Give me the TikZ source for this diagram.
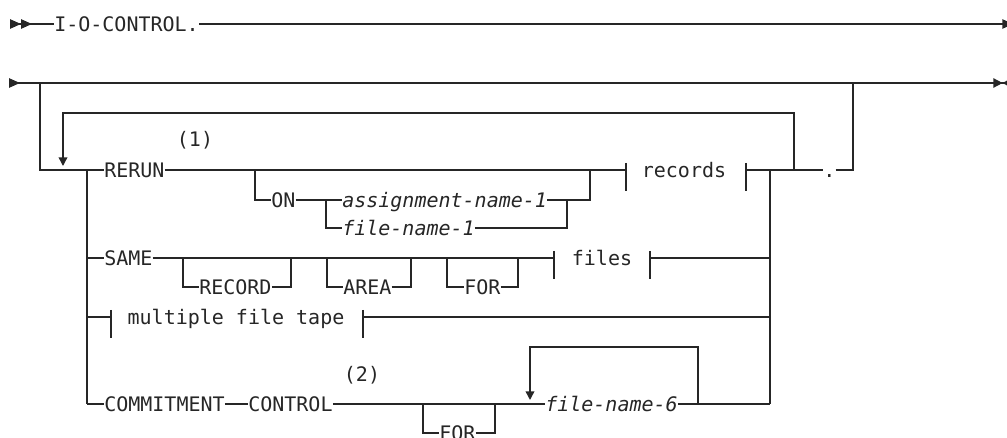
\documentclass[tikz,border=0pt]{standalone}
\usepackage{fontspec}
\usetikzlibrary{arrows.meta}
\newfontfamily\railfont{DejaVu Sans Mono}
\definecolor{railink}{HTML}{262626}
\tikzset{
  rail/.style={draw=railink,line width=1.1pt},
  kw/.style={inner sep=0pt,anchor=west,text=railink,text height=10.9pt,text depth=0pt,font={\railfont\fontsize{15pt}{18pt}\selectfont}},
  var/.style={kw,font={\railfont\itshape\fontsize{15pt}{18pt}\selectfont}},
  frag/.style={kw,anchor=center},
  note/.style={kw,anchor=center},
  firstrow/.style={{Triangle[reversed,length=8.25pt,width=7pt]Triangle[reversed,length=8.25pt,width=7pt]}-},
  nextrow/.style={-{Triangle[length=8pt,width=7pt]}},
  lastrow/.style={{Triangle[reversed,length=8.25pt,width=7pt]}-{Triangle[length=7pt,width=7pt]Triangle[reversed,length=5.5pt,width=6pt]}},
  loophead/.style={-{Triangle[length=6.5pt,width=6.5pt]}}
}

\begin{document}
\begin{tikzpicture}[x=0.75pt,y=-0.75pt]
  \useasboundingbox (0,0) rectangle (1007,438);
  % first line
  \coordinate (in1) at (10,24);
  \coordinate (out1) at (1013,24);
  \node[kw] (ioc) at (54,24) {I-O-CONTROL.};
  \draw[rail,firstrow] (in1) -- (ioc.west);
  \draw[rail,nextrow] (ioc.east) -- (out1);

  % second line
  \coordinate (in2) at (9,83);
  \coordinate (out2) at (1010,83);
  \coordinate (opt) at (40,83);
  \coordinate (back) at (853,83);
  \coordinate (stubA) at (859,83);
  \coordinate (stubB) at (883,83);
  \draw[rail,lastrow] (in2) -- (out2);
  \draw[rail,line width=1.8pt] (stubA) -- (stubB);

  % choice stack
  \coordinate (stkTop) at (87,170);
  \coordinate (stkBot) at (87,404);
  \coordinate (endTop) at (770,170);
  \coordinate (endBot) at (770,404);
  \draw[rail] (stkTop) -- (stkBot);
  \draw[rail] (endTop) -- (endBot);

  % RERUN
  \node[kw] (rerun) at (104,170) {RERUN};
  \node[note] (note1) at (195,139) {(1)};
  \coordinate (onA) at (255,170);
  \coordinate (onB) at (590,170);
  \node[kw] (on) at (271,200) {ON};
  \coordinate (nameA) at (326,200);
  \coordinate (nameB) at (567,200);
  \node[var] (asgn) at (342,200) {assignment-name-1};
  \node[var] (fname1) at (342,228) {file-name-1};
  \coordinate (recA) at (626,170);
  \coordinate (recB) at (746,170);
  \node[frag] (records) at (684,170) {records};
  \coordinate (loopR) at (794,170);
  \coordinate (loopTop) at (63,113);
  \coordinate (loopTip) at (63,166);
  \node[kw] (period) at (823,170) {.};
  \draw[rail] (opt) |- (stkTop) -- (rerun.west);
  \draw[rail] (rerun.east) -- (recA);
  \draw[rail] (onA) |- (on.west);
  \draw[rail] (on.east) -- (asgn.west);
  \draw[rail] (nameA) |- (fname1.west);
  \draw[rail] (fname1.east) -| (nameB);
  \draw[rail] (asgn.east) -| (onB);
  \draw[rail] (recA) ++(0,-7) -- ++(0,28);
  \draw[rail] (recB) ++(0,-7) -- ++(0,28);
  \draw[rail] (recB) -- (period.west);
  \draw[rail] (period.east) -| (back);
  \draw[rail,loophead] (loopR) |- (loopTop) -- (loopTip);

  % SAME
  \node[kw] (same) at (104,258) {SAME};
  \coordinate (recdA) at (183,258);
  \coordinate (recdB) at (291,258);
  \node[kw] (record) at (199,287) {RECORD};
  \coordinate (areaA) at (327,258);
  \coordinate (areaB) at (411,258);
  \node[kw] (area) at (343,287) {AREA};
  \coordinate (forA) at (447,258);
  \coordinate (forB) at (518,258);
  \node[kw] (for1) at (464,287) {FOR};
  \coordinate (filesA) at (554,258);
  \coordinate (filesB) at (650,258);
  \node[frag] (files) at (602,258) {files};
  \draw[rail] (stkTop |- same.west) -- (same.west);
  \draw[rail] (same.east) -- (filesA);
  \draw[rail] (recdA) |- (record.west);
  \draw[rail] (record.east) -| (recdB);
  \draw[rail] (areaA) |- (area.west);
  \draw[rail] (area.east) -| (areaB);
  \draw[rail] (forA) |- (for1.west);
  \draw[rail] (for1.east) -| (forB);
  \draw[rail] (filesA) ++(0,-7) -- ++(0,28);
  \draw[rail] (filesB) ++(0,-7) -- ++(0,28);
  \draw[rail] (filesB) -- (endTop |- filesB);

  % multiple file tape
  \coordinate (mftA) at (111,317);
  \coordinate (mftB) at (363,317);
  \node[frag] (mft) at (236,317) {multiple file tape};
  \draw[rail] (stkTop |- mftA) -- (mftA);
  \draw[rail] (mftA) ++(0,-7) -- ++(0,28);
  \draw[rail] (mftB) ++(0,-7) -- ++(0,28);
  \draw[rail] (mftB) -- (endTop |- mftB);

  % COMMITMENT CONTROL
  \node[kw] (commit) at (104,404) {COMMITMENT};
  \node[kw] (control) at (248,404) {CONTROL};
  \node[note] (note2) at (362,374) {(2)};
  \coordinate (for2A) at (423,404);
  \coordinate (for2B) at (495,404);
  \node[kw] (for2) at (439,433) {FOR};
  \node[var] (fname6) at (545,404) {file-name-6};
  \coordinate (rep6R) at (698,404);
  \coordinate (rep6Top) at (530,347);
  \coordinate (rep6Tip) at (530,400);
  \draw[rail] (stkBot) -- (commit.west);
  \draw[rail] (commit.east) -- (control.west);
  \draw[rail] (control.east) -- (fname6.west);
  \draw[rail] (for2A) |- (for2.west);
  \draw[rail] (for2.east) -| (for2B);
  \draw[rail,loophead] (rep6R) |- (rep6Top) -- (rep6Tip);
  \draw[rail] (fname6.east) -- (endBot);
\end{tikzpicture}
\end{document}
